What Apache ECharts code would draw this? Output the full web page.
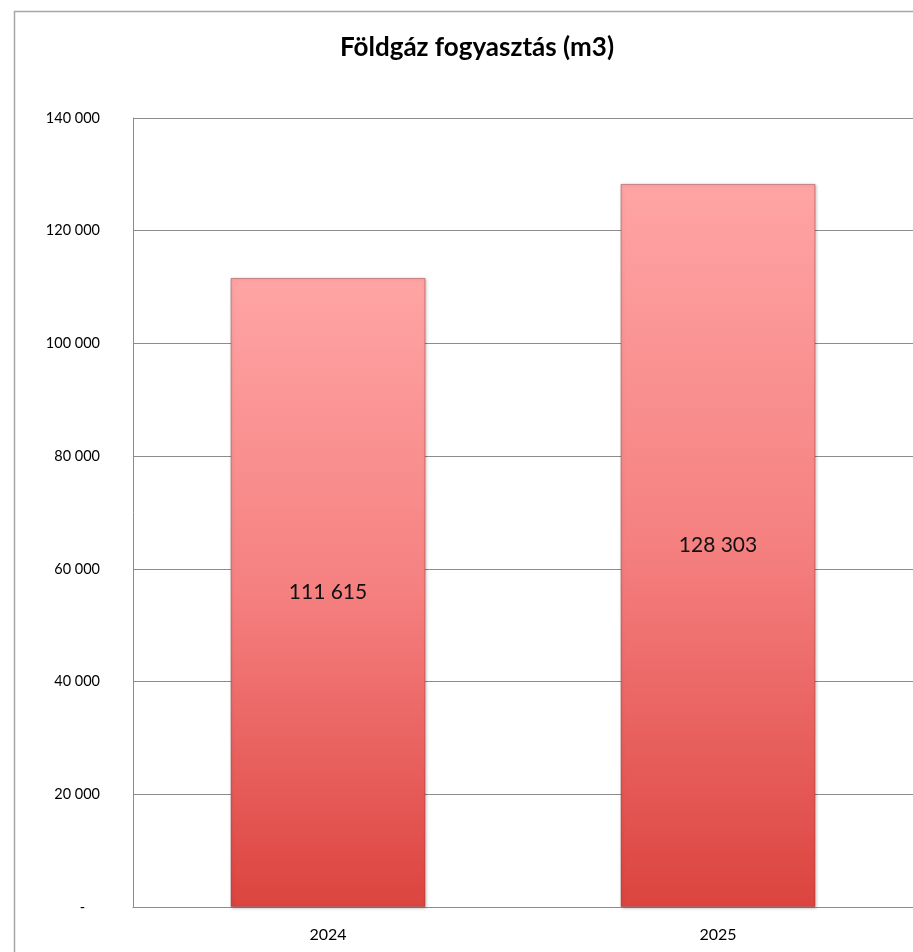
<!DOCTYPE html>
<html>
<head>
<meta charset="utf-8">
<title>Földgáz fogyasztás</title>
<script src="https://cdn.jsdelivr.net/npm/echarts@6/dist/echarts.min.js"></script>
<style>
  html, body { margin: 0; padding: 0; background: #fff; }
  #main { width: 913px; height: 952px; }
</style>
</head>
<body>
<div id="main"></div>
<script>
// chart data
var years = ['2024', '2025'];
var consumption = [111615, 128303];
var yTicks = { min: 0, max: 140000, step: 20000 };

var fontFam = 'Lato, "Open Sans", sans-serif';

// thousands with space, zero as dash (like the excel sheet)
function fmt(v) {
    if (v === 0) return '-    ';
    return String(v).replace(/\B(?=(\d{3})+(?!\d))/g, ' ');
}

var myChart = echarts.init(document.getElementById('main'));

var option = {
    animation: false,
    backgroundColor: '#fff',
    title: {
        text: 'Földgáz fogyasztás (m3)',
        left: 472,
        top: 30,
        textAlign: 'center',
        textStyle: { fontFamily: fontFam, fontSize: 26, fontWeight: 'bold', color: '#000' }
    },
    graphic: [{
        type: 'rect',
        shape: { x: 14.5, y: 11.5, width: 1000, height: 1000 },
        style: { fill: 'none', stroke: '#a6a6a6', lineWidth: 1.5 },
        silent: true
    }],
    grid: { left: 133, right: 0, top: 118, bottom: 45 },
    xAxis: {
        type: 'category',
        data: years,
        axisLine: { lineStyle: { color: '#8c8c8c', width: 1 } },
        axisTick: { show: false },
        axisLabel: { fontFamily: fontFam, fontSize: 16, color: '#000', margin: 20 }
    },
    yAxis: {
        type: 'value',
        min: yTicks.min,
        max: yTicks.max,
        interval: yTicks.step,
        axisLine: { show: true, lineStyle: { color: '#8c8c8c', width: 1 } },
        axisTick: { show: false },
        splitLine: { lineStyle: { color: '#8c8c8c', width: 1 } },
        axisLabel: {
            fontFamily: fontFam, fontSize: 14.5, color: '#000', margin: 33,
            formatter: fmt
        }
    },
    series: [{
        type: 'bar',
        data: consumption,
        barWidth: '50%',
        itemStyle: {
            color: new echarts.graphic.LinearGradient(0, 0, 0, 1, [
                { offset: 0, color: '#ffa4a4' },
                { offset: 0.5, color: '#f58080' },
                { offset: 1, color: '#dc443f' }
            ]),
            borderColor: 'rgba(150,50,50,0.45)',
            borderWidth: 1,
            shadowColor: 'rgba(0,0,0,0.25)',
            shadowBlur: 3,
            shadowOffsetX: 1,
            shadowOffsetY: 1
        },
        label: {
            show: true,
            position: 'inside',
            fontFamily: fontFam,
            fontSize: 21,
            color: '#111',
            formatter: function (p) { return fmt(p.value); }
        }
    }]
};

myChart.setOption(option);
</script>
</body>
</html>
